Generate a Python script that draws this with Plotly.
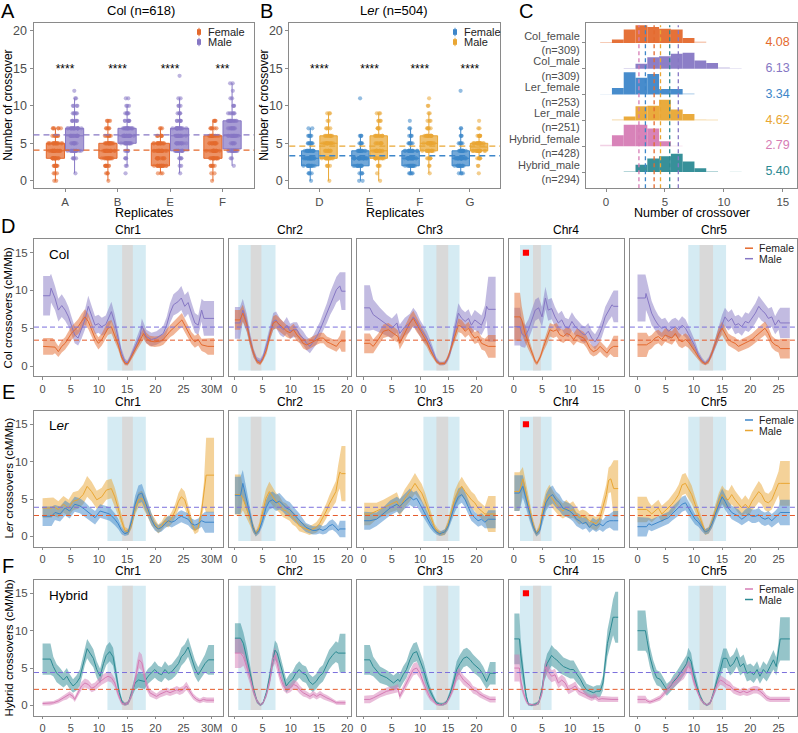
import plotly.graph_objects as go

W, H = 798, 733
FONT = "Liberation Sans, Arial, sans-serif"
GREY_TXT = "#4d4d4d"
FRAME = "#8a8a8a"

ORANGE, PURPLE = "#e4692d", "#8677c4"
BLUE, GOLD = "#3d86c9", "#e9a633"
PINK, TEAL = "#d67cb5", "#2c8a93"
AVG_PURPLE, AVG_ORANGE = "#7b6fdc", "#e65a2a"

# ---------------- A / B : crossovers per plant, counts per value ----------------
COL_REPS = ["A", "B", "E", "F"]
COL_FEMALE_COUNTS = [
    {0: 2, 1: 3, 2: 8, 3: 14, 4: 20, 5: 16, 6: 8, 7: 6},
    {0: 1, 1: 3, 2: 8, 3: 14, 4: 18, 5: 16, 6: 8, 7: 5, 8: 4},
    {1: 3, 2: 18, 3: 11, 4: 20, 5: 15, 6: 7, 7: 3},
    {0: 1, 1: 2, 2: 6, 3: 14, 4: 16, 5: 12, 6: 14, 7: 6, 8: 4},
]
COL_MALE_COUNTS = [
    {1: 1, 3: 4, 4: 16, 5: 8, 6: 14, 7: 18, 8: 6, 9: 5, 10: 4, 11: 2, 12: 1},
    {1: 1, 2: 2, 3: 3, 4: 5, 5: 14, 6: 20, 7: 16, 8: 7, 9: 5, 10: 3, 11: 2},
    {1: 1, 2: 2, 3: 4, 4: 14, 5: 12, 6: 14, 7: 16, 8: 6, 9: 4, 10: 3, 11: 2, 14: 1},
    {2: 1, 3: 2, 4: 16, 5: 6, 6: 14, 7: 10, 8: 12, 9: 6, 10: 3, 11: 2, 12: 1, 13: 2},
]
COL_SIG = ["****", "****", "****", "***"]
COL_MEANS = [4.08, 6.13]

LER_REPS = ["D", "E", "F", "G"]
LER_FEMALE_COUNTS = [
    {0: 1, 1: 4, 2: 14, 3: 22, 4: 16, 5: 8, 6: 5, 7: 2},
    {0: 2, 1: 4, 2: 13, 3: 22, 4: 14, 5: 5, 6: 4, 11: 1},
    {1: 5, 2: 14, 3: 20, 4: 16, 5: 6, 6: 4, 7: 2, 8: 1},
    {1: 4, 2: 14, 3: 22, 4: 14, 5: 5, 6: 3, 7: 2, 12: 1},
]
LER_MALE_COUNTS = [
    {0: 1, 2: 4, 3: 14, 4: 12, 5: 14, 6: 10, 7: 4, 8: 2, 9: 3},
    {0: 1, 1: 1, 2: 4, 3: 12, 4: 14, 5: 8, 6: 10, 7: 5, 8: 4, 9: 3},
    {1: 1, 2: 2, 3: 6, 4: 14, 5: 16, 6: 14, 7: 5, 8: 3, 9: 2, 10: 2, 11: 1},
    {1: 1, 2: 2, 3: 6, 4: 21, 5: 19, 6: 8, 7: 2, 8: 1},
]
LER_SIG = ["****", "****", "****", "****"]
LER_MEANS = [3.34, 4.62]

# ---------------- C : histograms (bin height relative to row spacing) ----------------
C_GROUPS = ["Col_female", "Col_male", "Ler_female", "Ler_male", "Hybrid_female", "Hybrid_male"]
C_N = [309, 309, 253, 251, 428, 294]
C_MEANS = [4.08, 6.13, 3.34, 4.62, 2.79, 5.40]
C_FIRST_BIN = [0, 2, 0, 1, 0, 2]
C_HEIGHTS = [
    [0.04, 0.13, 0.52, 0.68, 0.62, 0.55, 0.52, 0.19, 0.06],
    [0.03, 0.19, 0.45, 0.48, 0.58, 0.62, 0.32, 0.22, 0.06, 0.02],
    [0.01, 0.25, 0.86, 0.65, 0.80, 0.22, 0.22, 0.05],
    [0.04, 0.15, 0.55, 0.57, 0.80, 0.42, 0.25, 0.04, 0.03],
    [0.06, 0.42, 0.83, 0.83, 0.69, 0.19, 0.02],
    [0.04, 0.28, 0.52, 0.61, 0.71, 0.41, 0.15, 0.04, 0.0, 0.015],
]

# ---------------- D-F : crossover landscapes (Mb, cM/Mb, CI half width) ----------------
CHROMS = ["Chr1", "Chr2", "Chr3", "Chr4", "Chr5"]
CHR_LEN = [30.43, 19.70, 23.46, 18.59, 26.98]
CHR_TICKS = [[0, 5, 10, 15, 20, 25, 30], [0, 5, 10, 15, 20], [0, 5, 10, 15, 20], [0, 5, 10, 15], [0, 5, 10, 15, 20, 25]]
PERICEN = [(11.5, 18.3), (0.7, 7.3), (10.6, 17.0), (1.1, 6.7), (9.0, 15.7)]
CEN = [(14.1, 16.0), (2.9, 4.8), (12.9, 15.0), (3.4, 4.8), (11.0, 13.4)]
KNOB_CHR4 = (1.6, 2.7, 14.6, 15.4)
GENOME_AVG = {"Col": (3.42, 5.15), "Ler": (2.8, 3.9), "Hybrid": (2.15, 4.4)}

COL_FEMALE = {
    "Chr1": [(0.1, 2.6, 1.1), (1.8, 2.6, 1.1), (2.2, 2.5, 0.8), (2.8, 1.9, 0.7), (3.4, 2.6, 0.8), (4.0, 3.0, 0.8), (4.6, 3.7, 0.9), (5.1, 4.3, 0.9), (5.7, 4.8, 0.9), (6.3, 5.2, 1.0), (6.9, 5.9, 1.0), (7.5, 6.5, 1.0), (8.1, 5.9, 1.0), (8.7, 4.8, 0.9), (9.3, 3.7, 0.8), (9.9, 3.0, 0.8), (10.5, 3.5, 0.8), (11.1, 4.3, 0.9), (11.6, 5.0, 0.9), (12.2, 5.2, 0.9), (12.8, 4.1, 0.8), (13.4, 2.8, 0.6), (14.0, 1.2, 0.4), (14.6, 0.35, 0.25), (15.1, 0.3, 0.25), (15.5, 0.9, 0.35), (16.1, 1.7, 0.45), (16.7, 2.6, 0.55), (17.3, 3.5, 0.65), (17.9, 4.3, 0.75), (18.4, 3.7, 0.7), (19.0, 3.3, 0.7), (19.9, 3.2, 0.7), (20.8, 3.3, 0.7), (21.4, 3.5, 0.7), (22.0, 4.1, 0.8), (22.6, 4.6, 0.8), (23.2, 5.0, 0.9), (23.8, 5.4, 0.9), (24.7, 6.1, 0.9), (25.2, 5.4, 0.9), (25.8, 4.6, 0.8), (26.4, 3.7, 0.8), (27.0, 3.2, 0.8), (27.6, 3.5, 0.8), (28.2, 2.8, 0.8), (28.8, 2.7, 0.9), (29.3, 2.6, 1.1), (30.4, 2.6, 1.1)],
    "Chr2": [(0.1, 6.1, 1.3), (1.0, 6.1, 1.3), (1.5, 7.0, 1.1), (2.2, 5.5, 0.9), (2.8, 3.3, 0.7), (3.4, 1.7, 0.5), (4.0, 0.6, 0.3), (4.6, 0.35, 0.25), (5.1, 1.0, 0.35), (5.7, 2.1, 0.5), (6.3, 4.1, 0.7), (6.9, 5.7, 0.9), (7.4, 5.9, 0.9), (8.1, 5.4, 0.9), (8.7, 5.0, 0.9), (9.3, 4.6, 0.8), (9.9, 4.4, 0.8), (10.5, 4.8, 0.8), (11.1, 4.1, 0.8), (11.6, 3.7, 0.7), (12.2, 3.0, 0.7), (12.8, 2.8, 0.7), (13.4, 3.0, 0.7), (14.0, 3.2, 0.7), (14.6, 3.5, 0.7), (15.2, 3.7, 0.7), (15.8, 3.7, 0.7), (16.4, 3.2, 0.7), (17.0, 3.0, 0.7), (17.6, 2.8, 0.7), (18.1, 2.6, 0.7), (18.7, 3.2, 0.8), (19.0, 3.3, 1.4), (19.7, 3.3, 1.4)],
    "Chr3": [(0.1, 3.0, 1.3), (1.1, 3.0, 1.3), (1.7, 2.6, 0.9), (2.6, 3.5, 0.8), (3.5, 4.6, 0.9), (4.4, 4.8, 0.9), (5.3, 4.3, 0.9), (6.1, 3.9, 0.8), (6.4, 3.0, 0.8), (7.3, 4.3, 0.9), (8.2, 5.7, 1.0), (8.8, 6.3, 1.0), (9.4, 5.5, 1.0), (10.0, 4.8, 0.9), (10.6, 3.9, 0.8), (11.2, 3.2, 0.7), (11.8, 2.1, 0.5), (12.4, 1.2, 0.35), (12.9, 0.6, 0.25), (13.5, 0.3, 0.2), (14.4, 0.35, 0.2), (15.0, 1.2, 0.35), (15.6, 2.6, 0.55), (16.2, 4.1, 0.75), (16.8, 5.4, 0.9), (17.4, 5.2, 0.9), (18.0, 4.6, 0.85), (18.6, 5.0, 0.85), (19.1, 4.3, 0.8), (19.7, 3.7, 0.8), (20.3, 3.9, 0.8), (20.9, 3.0, 0.8), (21.5, 2.8, 0.8), (22.1, 2.6, 1.5), (23.4, 2.6, 1.5)],
    "Chr4": [(0.1, 6.5, 3.2), (1.1, 6.5, 3.2), (1.4, 6.1, 1.8), (2.0, 4.3, 1.2), (2.6, 3.0, 0.8), (3.2, 1.7, 0.5), (3.8, 0.6, 0.3), (4.1, 0.35, 0.25), (4.7, 1.2, 0.35), (5.3, 2.6, 0.6), (5.9, 3.7, 0.8), (6.4, 4.8, 0.9), (7.0, 4.6, 0.9), (7.6, 4.8, 0.9), (8.2, 4.1, 0.85), (8.8, 3.9, 0.85), (9.4, 4.3, 0.85), (10.0, 4.1, 0.85), (10.6, 3.5, 0.8), (11.2, 4.1, 0.85), (11.8, 3.9, 0.85), (12.4, 3.7, 0.8), (12.9, 3.2, 0.8), (13.5, 2.3, 0.7), (14.1, 1.9, 0.65), (14.7, 2.1, 0.65), (15.3, 2.6, 0.7), (15.9, 2.1, 0.7), (16.5, 1.7, 0.65), (17.1, 2.3, 0.7), (17.7, 2.6, 1.4), (18.5, 2.6, 1.4)],
    "Chr5": [(0.0, 2.8, 1.6), (1.6, 2.8, 1.6), (2.0, 3.0, 0.9), (2.5, 3.2, 0.9), (3.1, 3.7, 0.9), (3.7, 3.9, 0.9), (4.3, 3.5, 0.9), (4.9, 4.1, 0.9), (5.5, 3.9, 0.9), (6.1, 3.7, 0.9), (6.7, 4.3, 0.9), (7.3, 3.5, 0.9), (7.9, 3.2, 0.85), (8.5, 3.5, 0.85), (9.0, 3.2, 0.8), (9.6, 2.6, 0.7), (10.2, 1.9, 0.55), (10.8, 1.2, 0.4), (11.4, 0.6, 0.3), (12.0, 0.3, 0.2), (12.6, 0.6, 0.3), (13.2, 1.7, 0.45), (13.8, 3.0, 0.65), (14.4, 4.3, 0.8), (15.0, 5.0, 0.9), (15.5, 4.3, 0.85), (16.1, 3.5, 0.8), (16.7, 3.2, 0.8), (17.3, 3.0, 0.8), (17.9, 2.6, 0.75), (18.5, 2.8, 0.75), (19.1, 3.0, 0.8), (19.7, 3.2, 0.8), (20.3, 3.5, 0.8), (20.9, 3.9, 0.85), (21.5, 4.3, 0.85), (22.0, 4.6, 0.9), (22.6, 5.0, 0.9), (23.2, 4.3, 0.85), (23.8, 3.2, 0.8), (24.4, 2.8, 0.8), (25.0, 2.6, 0.8), (25.3, 2.3, 1.3), (27.0, 2.3, 1.3)],
}
COL_MALE = {
    "Chr1": [(0.1, 9.3, 2.6), (1.3, 9.3, 2.6), (1.5, 10.3, 1.9), (2.2, 9.0, 1.6), (2.8, 7.4, 1.5), (3.4, 8.0, 1.5), (4.0, 7.4, 1.4), (4.6, 6.5, 1.3), (5.1, 5.4, 1.2), (5.7, 4.1, 1.1), (6.3, 3.7, 1.0), (6.9, 4.8, 1.2), (7.5, 6.1, 1.3), (8.1, 7.9, 1.4), (8.7, 6.5, 1.3), (9.3, 5.4, 1.2), (9.9, 5.6, 1.2), (10.5, 5.2, 1.2), (11.2, 5.5, 1.2), (12.2, 7.2, 1.3), (12.8, 5.7, 1.1), (13.4, 3.5, 0.9), (14.0, 1.7, 0.6), (14.6, 0.6, 0.4), (15.0, 0.4, 0.3), (15.5, 1.0, 0.4), (16.1, 2.1, 0.6), (16.7, 3.2, 0.8), (17.3, 4.1, 0.9), (17.6, 5.3, 1.0), (18.4, 3.9, 0.9), (19.3, 3.5, 0.9), (20.2, 3.7, 0.9), (21.4, 4.3, 1.0), (22.0, 5.4, 1.1), (22.6, 7.0, 1.3), (23.2, 8.1, 1.4), (24.0, 8.5, 1.5), (24.6, 9.0, 1.6), (25.2, 7.9, 1.5), (25.8, 8.4, 1.5), (26.4, 7.0, 1.4), (27.0, 5.7, 1.3), (27.6, 5.4, 1.3), (28.2, 7.4, 1.5), (28.6, 6.3, 2.3), (30.4, 6.3, 2.3)],
    "Chr2": [(0.1, 5.7, 2.1), (1.0, 5.7, 2.1), (1.5, 7.4, 1.5), (2.2, 5.7, 1.2), (2.8, 3.5, 0.9), (3.4, 1.7, 0.6), (4.0, 0.8, 0.4), (4.6, 0.6, 0.35), (5.1, 1.2, 0.45), (5.7, 2.6, 0.7), (6.3, 4.3, 0.9), (6.9, 5.9, 1.1), (7.4, 6.1, 1.1), (8.1, 5.2, 1.1), (8.7, 4.8, 1.0), (9.3, 5.4, 1.1), (9.9, 4.6, 1.0), (10.5, 4.8, 1.0), (11.1, 4.8, 1.0), (11.6, 4.1, 1.0), (12.2, 3.7, 0.9), (12.8, 3.0, 0.9), (13.4, 2.6, 0.9), (14.0, 3.2, 0.9), (14.6, 3.9, 1.0), (15.2, 4.8, 1.1), (15.8, 5.9, 1.2), (16.4, 7.0, 1.3), (17.0, 8.3, 1.5), (17.6, 9.2, 1.6), (18.1, 10.1, 1.7), (18.7, 10.6, 1.8), (19.0, 9.9, 2.5), (19.7, 9.9, 2.5)],
    "Chr3": [(0.1, 7.7, 3.0), (1.1, 7.7, 3.0), (1.7, 6.8, 2.0), (2.9, 6.1, 1.6), (4.1, 5.4, 1.4), (5.0, 5.0, 1.3), (5.9, 5.7, 1.3), (6.4, 4.3, 1.2), (7.3, 5.2, 1.2), (8.2, 5.7, 1.2), (8.8, 6.5, 1.2), (9.4, 5.9, 1.2), (10.0, 5.0, 1.1), (10.6, 4.3, 1.0), (11.2, 3.7, 0.9), (11.8, 2.8, 0.7), (12.4, 1.7, 0.5), (12.9, 0.8, 0.35), (13.5, 0.35, 0.25), (14.1, 0.3, 0.25), (14.7, 0.6, 0.3), (15.3, 1.7, 0.5), (15.9, 3.9, 0.9), (16.5, 6.1, 1.2), (16.8, 7.0, 1.3), (17.4, 6.3, 1.2), (18.0, 5.9, 1.2), (18.6, 6.3, 1.2), (19.1, 5.4, 1.2), (19.7, 6.1, 1.3), (20.3, 5.7, 1.3), (20.9, 5.4, 1.3), (21.5, 6.5, 1.5), (21.8, 7.9, 1.8), (22.1, 7.5, 4.3), (23.4, 7.5, 4.3)],
    "Chr4": [(0.1, 5.2, 2.5), (1.1, 5.2, 2.5), (1.4, 4.3, 1.8), (2.0, 3.9, 1.5), (2.6, 4.8, 1.4), (3.2, 6.1, 1.4), (3.8, 7.4, 1.4), (4.4, 7.7, 1.4), (5.0, 6.5, 1.3), (5.6, 9.0, 1.5), (6.1, 7.4, 1.4), (6.7, 7.6, 1.4), (7.3, 6.5, 1.3), (7.9, 5.7, 1.2), (8.5, 6.1, 1.2), (9.1, 5.2, 1.2), (9.7, 5.0, 1.2), (10.3, 5.9, 1.2), (10.9, 5.2, 1.2), (11.5, 4.8, 1.1), (12.1, 4.3, 1.1), (12.6, 4.1, 1.1), (13.2, 4.6, 1.1), (13.8, 3.7, 1.0), (14.4, 3.2, 1.0), (15.0, 3.9, 1.1), (15.6, 5.0, 1.2), (16.2, 6.5, 1.3), (16.8, 7.4, 1.4), (17.4, 8.1, 1.5), (17.7, 7.9, 2.1), (18.5, 7.9, 2.1)],
    "Chr5": [(0.0, 9.0, 3.1), (1.4, 9.0, 3.1), (1.5, 9.6, 2.2), (2.0, 8.3, 1.8), (2.5, 7.0, 1.6), (3.1, 6.1, 1.4), (3.7, 5.4, 1.3), (4.3, 5.0, 1.2), (4.9, 5.2, 1.2), (5.5, 4.6, 1.1), (6.1, 5.0, 1.2), (6.7, 5.2, 1.2), (7.3, 4.8, 1.2), (7.9, 5.4, 1.2), (8.5, 5.0, 1.2), (9.0, 4.3, 1.1), (9.6, 3.5, 0.9), (10.2, 2.6, 0.7), (10.8, 1.5, 0.5), (11.4, 0.8, 0.35), (12.0, 0.35, 0.25), (12.6, 0.8, 0.35), (13.2, 1.7, 0.5), (13.8, 3.0, 0.7), (14.4, 4.3, 0.9), (15.0, 5.7, 1.1), (15.5, 6.5, 1.2), (16.1, 5.9, 1.2), (16.7, 6.3, 1.2), (17.3, 5.4, 1.2), (17.9, 5.6, 1.2), (18.5, 5.2, 1.2), (19.1, 5.9, 1.2), (19.7, 5.7, 1.2), (20.3, 6.3, 1.3), (20.9, 7.0, 1.3), (21.5, 7.9, 1.4), (22.0, 7.4, 1.4), (22.6, 7.0, 1.3), (23.2, 6.3, 1.3), (23.8, 6.5, 1.3), (24.4, 5.4, 1.2), (25.0, 6.1, 1.3), (25.3, 5.7, 2.0), (27.0, 5.7, 2.0)],
}
LER_FEMALE = {
    "Chr1": [(0.0, 2.7, 1.3), (1.6, 2.7, 1.3), (2.2, 3.2, 1.0), (3.1, 3.0, 1.0), (4.0, 3.8, 1.0), (4.8, 3.4, 1.0), (5.7, 4.3, 1.0), (6.6, 4.1, 1.0), (7.5, 3.6, 1.0), (8.4, 3.0, 0.9), (9.3, 2.5, 0.9), (10.2, 3.4, 0.9), (11.1, 3.2, 0.9), (11.9, 3.0, 0.9), (12.8, 2.3, 0.8), (13.4, 1.7, 0.7), (14.0, 0.8, 0.5), (14.6, 0.35, 0.3), (15.2, 0.6, 0.4), (15.8, 2.1, 0.8), (16.4, 4.3, 1.1), (17.0, 5.6, 1.2), (17.6, 5.8, 1.2), (18.1, 4.9, 1.1), (18.7, 3.6, 1.0), (19.3, 2.3, 0.8), (19.9, 1.4, 0.6), (20.5, 1.0, 0.5), (21.1, 1.2, 0.55), (21.7, 1.7, 0.6), (22.3, 2.1, 0.7), (22.9, 1.9, 0.7), (23.5, 2.1, 0.7), (24.1, 2.5, 0.8), (24.6, 2.7, 0.8), (25.2, 2.5, 0.8), (25.8, 2.3, 0.8), (26.4, 1.7, 0.7), (27.0, 1.5, 0.7), (27.6, 1.7, 0.7), (28.2, 2.1, 0.8), (28.8, 1.9, 1.4), (30.4, 1.9, 1.4)],
    "Chr2": [(0.1, 5.5, 2.5), (1.1, 5.5, 2.5), (1.5, 7.1, 1.8), (2.1, 5.1, 1.4), (2.7, 3.0, 1.0), (3.3, 1.2, 0.6), (3.8, 0.35, 0.35), (4.4, 0.8, 0.4), (5.0, 2.1, 0.7), (5.6, 3.8, 1.0), (6.2, 4.7, 1.1), (6.8, 4.9, 1.1), (7.4, 4.5, 1.1), (8.0, 4.7, 1.1), (8.6, 4.3, 1.0), (9.2, 3.8, 1.0), (9.8, 3.6, 1.0), (10.3, 3.2, 0.9), (10.9, 2.7, 0.9), (11.5, 2.3, 0.8), (12.1, 1.7, 0.7), (12.7, 1.2, 0.6), (13.3, 1.0, 0.6), (13.9, 0.8, 0.55), (14.5, 0.8, 0.55), (15.1, 1.0, 0.6), (15.7, 0.8, 0.55), (16.3, 1.0, 0.6), (16.8, 1.4, 0.65), (17.4, 1.6, 0.7), (18.0, 1.2, 0.65), (18.4, 0.8, 0.6), (18.7, 1.0, 1.1), (19.7, 1.0, 1.1)],
    "Chr3": [(0.1, 2.1, 1.2), (1.1, 2.1, 1.2), (2.3, 2.3, 0.9), (3.5, 3.0, 0.9), (4.7, 3.8, 1.0), (5.9, 4.3, 1.0), (6.4, 4.0, 1.0), (7.3, 4.7, 1.0), (8.2, 5.3, 1.1), (8.8, 4.9, 1.0), (9.4, 5.1, 1.0), (10.0, 4.3, 1.0), (10.6, 3.4, 0.9), (11.2, 2.7, 0.8), (11.8, 1.7, 0.6), (12.4, 1.0, 0.45), (12.9, 0.6, 0.35), (13.5, 0.35, 0.3), (14.4, 0.6, 0.35), (15.0, 1.4, 0.5), (15.6, 3.0, 0.8), (16.2, 4.3, 1.0), (16.8, 5.3, 1.1), (17.4, 5.6, 1.1), (18.0, 4.9, 1.0), (18.6, 3.8, 0.9), (19.1, 3.0, 0.9), (19.7, 2.5, 0.8), (20.3, 2.1, 0.8), (20.9, 2.3, 0.8), (21.5, 1.9, 0.8), (22.1, 2.3, 1.2), (23.4, 2.3, 1.2)],
    "Chr4": [(0.1, 5.8, 2.4), (1.0, 5.8, 2.4), (1.6, 6.7, 1.5), (2.2, 4.9, 1.2), (2.8, 3.0, 0.9), (3.4, 1.4, 0.6), (4.0, 0.35, 0.35), (4.6, 0.8, 0.45), (5.1, 2.7, 0.9), (5.7, 4.5, 1.1), (6.3, 5.3, 1.2), (6.9, 5.6, 1.2), (7.5, 4.9, 1.1), (8.1, 4.5, 1.1), (8.7, 3.8, 1.0), (9.3, 3.6, 1.0), (9.9, 3.4, 1.0), (10.5, 3.0, 1.0), (11.1, 2.3, 0.9), (11.6, 2.1, 0.9), (12.2, 1.7, 0.8), (12.8, 1.9, 0.8), (13.4, 1.2, 0.7), (14.0, 1.7, 0.8), (14.6, 1.4, 0.8), (15.2, 1.7, 0.8), (15.8, 1.4, 0.8), (16.4, 1.9, 0.9), (17.0, 2.1, 0.9), (17.7, 2.1, 1.3), (18.5, 2.1, 1.3)],
    "Chr5": [(0.0, 1.3, 1.3), (1.6, 1.3, 1.3), (2.0, 1.7, 0.8), (2.5, 1.5, 0.8), (3.1, 1.7, 0.8), (3.7, 1.9, 0.8), (4.3, 2.1, 0.8), (4.9, 2.3, 0.8), (5.5, 2.5, 0.8), (6.1, 3.0, 0.9), (6.7, 3.4, 0.9), (7.3, 3.8, 1.0), (7.9, 4.3, 1.0), (8.5, 4.5, 1.0), (9.0, 3.8, 0.9), (9.6, 3.0, 0.8), (10.2, 2.3, 0.7), (10.8, 1.9, 0.6), (11.4, 1.2, 0.5), (12.0, 0.6, 0.35), (12.6, 0.8, 0.4), (13.2, 1.7, 0.6), (13.8, 3.0, 0.8), (14.4, 4.3, 1.0), (15.0, 5.3, 1.1), (15.5, 4.7, 1.0), (16.1, 3.8, 0.9), (16.7, 3.2, 0.9), (17.3, 3.0, 0.9), (17.9, 2.7, 0.9), (18.5, 2.3, 0.8), (19.1, 2.7, 0.9), (19.7, 3.0, 0.9), (20.3, 2.7, 0.9), (20.9, 2.7, 0.9), (21.5, 2.9, 0.9), (22.0, 2.5, 0.9), (22.6, 2.3, 0.9), (23.2, 2.5, 0.9), (23.8, 2.1, 0.9), (24.4, 2.5, 0.9), (25.0, 2.9, 1.0), (25.3, 3.2, 1.7), (27.0, 3.2, 1.7)],
}
LER_MALE = {
    "Chr1": [(0.0, 3.8, 1.3), (1.6, 3.8, 1.3), (1.9, 4.0, 1.2), (2.8, 3.6, 1.1), (3.7, 4.3, 1.1), (4.6, 3.8, 1.1), (5.4, 4.7, 1.2), (6.3, 4.9, 1.2), (7.2, 5.6, 1.3), (7.9, 6.7, 1.4), (8.7, 6.0, 1.3), (9.6, 4.9, 1.2), (10.5, 5.3, 1.2), (11.3, 6.2, 1.3), (12.2, 6.4, 1.3), (12.8, 5.3, 1.2), (13.4, 3.8, 1.0), (14.0, 2.1, 0.7), (14.6, 0.8, 0.45), (15.2, 0.6, 0.4), (15.8, 1.7, 0.6), (16.4, 3.8, 0.9), (17.0, 4.9, 1.0), (17.6, 5.1, 1.0), (18.1, 4.5, 1.0), (18.7, 3.4, 0.9), (19.3, 2.3, 0.8), (19.9, 1.7, 0.7), (20.5, 1.0, 0.6), (21.1, 1.4, 0.6), (21.7, 2.1, 0.7), (22.3, 1.9, 0.7), (22.9, 2.5, 0.8), (23.5, 3.4, 0.9), (24.1, 4.7, 1.1), (24.6, 5.3, 1.2), (25.2, 4.9, 1.1), (25.8, 3.4, 0.9), (26.4, 1.9, 0.7), (27.0, 0.8, 0.5), (27.6, 1.2, 0.6), (28.2, 3.4, 1.0), (28.6, 5.6, 1.6), (29.0, 8.2, 5.0), (30.4, 8.2, 5.0)],
    "Chr2": [(0.1, 5.6, 2.7), (1.1, 5.6, 2.7), (1.5, 5.1, 1.6), (2.1, 3.8, 1.2), (2.7, 2.5, 0.9), (3.3, 1.2, 0.6), (3.8, 0.35, 0.35), (4.4, 1.2, 0.6), (5.0, 3.4, 1.0), (5.6, 5.1, 1.2), (6.2, 6.0, 1.3), (6.8, 5.3, 1.2), (7.4, 4.7, 1.1), (8.0, 4.3, 1.1), (8.6, 3.6, 1.0), (9.2, 3.4, 1.0), (9.8, 3.0, 0.9), (10.3, 2.5, 0.9), (10.9, 2.1, 0.8), (11.5, 1.4, 0.7), (12.1, 1.2, 0.7), (12.7, 1.0, 0.6), (13.3, 0.8, 0.6), (13.9, 1.0, 0.6), (14.5, 1.2, 0.7), (15.1, 1.7, 0.8), (15.7, 2.5, 0.9), (16.3, 3.4, 1.0), (16.8, 4.3, 1.1), (17.4, 5.1, 1.2), (18.0, 6.0, 1.4), (18.4, 7.7, 1.8), (18.7, 8.6, 2.2), (19.0, 8.4, 3.7), (19.7, 8.4, 3.7)],
    "Chr3": [(0.1, 3.0, 1.5), (1.1, 3.0, 1.5), (2.3, 3.4, 1.1), (3.5, 3.8, 1.1), (4.7, 4.3, 1.1), (5.9, 4.7, 1.2), (6.4, 3.8, 1.1), (7.3, 5.1, 1.2), (8.2, 6.0, 1.3), (9.1, 7.1, 1.4), (9.7, 6.4, 1.3), (10.3, 5.8, 1.2), (10.9, 4.7, 1.1), (11.5, 3.4, 0.9), (12.1, 2.3, 0.7), (12.6, 1.2, 0.5), (13.2, 0.6, 0.4), (13.8, 0.35, 0.3), (14.4, 0.6, 0.4), (15.0, 1.7, 0.6), (15.6, 3.4, 0.9), (16.2, 5.1, 1.1), (16.8, 6.0, 1.2), (17.4, 6.7, 1.3), (18.0, 6.0, 1.2), (18.6, 5.3, 1.2), (19.1, 4.9, 1.1), (19.7, 4.5, 1.1), (20.3, 3.8, 1.0), (20.9, 3.4, 1.0), (21.5, 3.0, 1.0), (22.1, 3.0, 2.4), (23.4, 3.0, 2.4)],
    "Chr4": [(0.1, 6.0, 2.6), (1.0, 6.0, 2.6), (1.6, 7.7, 1.6), (2.2, 5.6, 1.3), (2.8, 3.4, 1.0), (3.4, 1.7, 0.7), (4.0, 0.35, 0.35), (4.6, 1.2, 0.6), (5.1, 3.4, 1.0), (5.7, 4.9, 1.2), (6.3, 5.6, 1.3), (6.9, 4.9, 1.2), (7.5, 4.3, 1.1), (8.1, 3.8, 1.1), (8.7, 3.4, 1.0), (9.3, 3.8, 1.1), (9.9, 3.4, 1.0), (10.5, 3.6, 1.1), (11.1, 3.0, 1.0), (11.6, 2.5, 0.9), (12.2, 2.7, 0.9), (12.8, 2.5, 0.9), (13.4, 2.1, 0.9), (14.0, 1.9, 0.9), (14.6, 1.7, 0.9), (15.2, 2.3, 1.0), (15.8, 3.8, 1.2), (16.4, 5.6, 1.4), (16.8, 7.5, 1.7), (17.2, 7.7, 1.8), (17.7, 6.4, 3.8), (18.5, 6.4, 3.8)],
    "Chr5": [(0.0, 3.6, 1.7), (1.6, 3.6, 1.7), (2.0, 3.4, 1.2), (2.5, 3.0, 1.1), (3.1, 3.4, 1.1), (3.7, 3.8, 1.1), (4.3, 3.0, 1.1), (4.9, 3.4, 1.1), (5.5, 3.8, 1.1), (6.1, 4.3, 1.2), (6.7, 4.9, 1.2), (7.3, 5.6, 1.3), (7.9, 6.9, 1.4), (8.5, 7.1, 1.4), (9.0, 6.4, 1.3), (9.6, 5.6, 1.2), (10.2, 4.3, 1.0), (10.8, 3.0, 0.8), (11.4, 1.7, 0.6), (12.0, 0.6, 0.4), (12.6, 0.8, 0.45), (13.2, 1.9, 0.7), (13.8, 3.4, 0.9), (14.4, 4.7, 1.1), (15.0, 5.6, 1.2), (15.5, 5.1, 1.2), (16.1, 4.9, 1.2), (16.7, 5.6, 1.3), (17.3, 4.9, 1.2), (17.9, 4.3, 1.2), (18.5, 3.8, 1.1), (19.1, 4.3, 1.2), (19.7, 3.8, 1.1), (20.3, 4.7, 1.2), (20.9, 5.3, 1.3), (21.5, 6.0, 1.4), (22.0, 5.6, 1.3), (22.6, 4.7, 1.2), (23.2, 4.5, 1.2), (23.8, 4.9, 1.3), (24.4, 6.0, 1.4), (25.0, 7.1, 1.6), (25.3, 7.1, 3.0), (27.0, 7.1, 3.0)],
}
HYB_FEMALE = {
    "Chr1": [(0.0, 0.25, 0.25), (1.3, 0.25, 0.25), (1.9, 0.35, 0.25), (2.8, 0.6, 0.3), (3.7, 1.0, 0.35), (4.3, 1.2, 0.4), (4.8, 1.5, 0.4), (5.4, 1.2, 0.4), (5.7, 0.8, 0.35), (6.3, 1.7, 0.45), (6.9, 2.6, 0.55), (7.5, 3.0, 0.6), (8.1, 2.8, 0.6), (8.7, 2.3, 0.55), (9.3, 2.5, 0.55), (9.9, 3.0, 0.6), (10.5, 3.4, 0.65), (11.1, 3.7, 0.65), (11.6, 3.9, 0.65), (12.2, 3.7, 0.65), (12.8, 3.0, 0.6), (13.4, 1.5, 0.45), (14.0, 0.35, 0.25), (14.6, 0.15, 0.2), (15.2, 0.35, 0.25), (15.8, 1.5, 0.5), (16.3, 3.0, 0.8), (16.7, 4.8, 1.0), (17.1, 6.1, 1.1), (17.6, 5.7, 1.1), (18.0, 4.3, 0.9), (18.4, 2.8, 0.7), (19.0, 1.7, 0.5), (19.6, 1.5, 0.45), (20.2, 1.2, 0.4), (20.8, 1.5, 0.45), (21.4, 1.7, 0.45), (22.0, 1.9, 0.5), (22.6, 1.7, 0.45), (23.2, 1.9, 0.5), (23.8, 2.1, 0.5), (24.3, 1.9, 0.5), (24.9, 2.1, 0.5), (25.5, 2.6, 0.55), (26.1, 1.9, 0.5), (26.7, 1.2, 0.4), (27.3, 0.8, 0.35), (27.9, 0.6, 0.3), (28.5, 0.8, 0.35), (29.1, 0.7, 0.35), (30.4, 0.7, 0.35)],
    "Chr2": [(0.1, 7.0, 2.0), (1.1, 7.0, 2.0), (1.6, 6.5, 1.2), (2.2, 5.2, 1.0), (2.8, 3.7, 0.8), (3.4, 1.9, 0.5), (4.0, 0.6, 0.25), (4.6, 0.05, 0.1), (5.1, 0.35, 0.2), (5.7, 1.5, 0.4), (6.3, 3.4, 0.7), (6.8, 6.1, 1.0), (7.2, 6.7, 1.1), (7.6, 5.6, 1.0), (8.1, 3.9, 0.8), (8.7, 2.6, 0.6), (9.3, 2.1, 0.55), (9.9, 2.3, 0.55), (10.5, 2.8, 0.6), (11.1, 2.6, 0.6), (11.6, 2.1, 0.55), (12.2, 1.7, 0.5), (12.8, 1.5, 0.45), (13.4, 1.2, 0.4), (14.0, 1.5, 0.45), (14.6, 1.2, 0.4), (15.2, 1.5, 0.45), (15.8, 1.2, 0.4), (16.4, 1.0, 0.4), (17.0, 0.8, 0.35), (17.6, 0.6, 0.3), (18.1, 0.35, 0.25), (18.7, 0.35, 0.3), (19.7, 0.35, 0.3)],
    "Chr3": [(0.1, 0.8, 0.5), (1.1, 0.8, 0.5), (1.7, 1.0, 0.4), (2.9, 1.5, 0.45), (4.1, 1.9, 0.5), (5.3, 2.1, 0.5), (6.1, 2.3, 0.55), (6.4, 1.2, 0.45), (7.0, 2.1, 0.5), (7.6, 3.0, 0.6), (8.2, 3.9, 0.7), (8.8, 4.8, 0.8), (9.4, 5.0, 0.8), (10.0, 4.3, 0.75), (10.6, 3.0, 0.6), (11.2, 1.9, 0.5), (11.8, 1.0, 0.35), (12.4, 0.6, 0.25), (12.9, 0.15, 0.15), (13.8, 0.05, 0.1), (14.7, 0.35, 0.2), (15.3, 1.2, 0.35), (15.9, 2.3, 0.5), (16.5, 3.9, 0.7), (16.9, 4.3, 0.75), (17.7, 3.4, 0.65), (18.3, 3.0, 0.6), (18.9, 2.6, 0.55), (19.4, 2.1, 0.5), (20.0, 1.9, 0.5), (20.6, 1.5, 0.45), (21.2, 1.2, 0.4), (21.8, 1.0, 0.4), (22.4, 0.8, 0.4), (23.4, 0.8, 0.4)],
    "Chr4": [(0.1, 5.0, 1.8), (1.0, 5.0, 1.8), (1.2, 3.4, 1.0), (1.7, 1.7, 0.5), (2.2, 0.6, 0.3), (2.6, 0.15, 0.15), (3.8, 0.05, 0.1), (4.4, 0.35, 0.2), (5.0, 1.7, 0.5), (5.4, 4.3, 0.9), (5.7, 5.2, 1.0), (6.1, 4.5, 0.9), (6.7, 3.9, 0.8), (7.3, 4.1, 0.8), (7.9, 3.0, 0.7), (8.5, 3.4, 0.7), (9.1, 3.0, 0.7), (9.7, 2.1, 0.6), (10.3, 2.3, 0.6), (10.9, 2.6, 0.6), (11.5, 1.9, 0.5), (12.1, 1.7, 0.5), (12.6, 1.5, 0.45), (13.2, 1.2, 0.4), (13.8, 1.0, 0.4), (14.4, 1.2, 0.4), (15.0, 0.8, 0.35), (15.6, 0.9, 0.35), (16.5, 0.8, 0.35), (17.4, 0.8, 0.35), (18.5, 0.8, 0.35)],
    "Chr5": [(0.0, 0.8, 0.5), (1.4, 0.8, 0.5), (1.7, 0.6, 0.3), (2.2, 0.45, 0.25), (2.8, 0.6, 0.3), (3.4, 0.8, 0.3), (4.0, 1.0, 0.35), (4.6, 1.5, 0.4), (5.2, 2.1, 0.5), (5.8, 2.6, 0.55), (6.4, 3.0, 0.6), (7.0, 3.4, 0.65), (7.6, 3.9, 0.7), (8.2, 4.3, 0.75), (8.7, 5.0, 0.8), (9.0, 5.2, 0.8), (9.5, 4.8, 0.75), (9.9, 3.4, 0.6), (10.5, 2.1, 0.45), (11.1, 1.0, 0.3), (11.7, 0.35, 0.2), (12.3, 0.05, 0.1), (12.9, 0.35, 0.2), (13.5, 1.5, 0.4), (14.1, 2.8, 0.6), (14.7, 3.4, 0.65), (15.2, 3.2, 0.6), (15.8, 2.8, 0.6), (16.4, 2.6, 0.55), (17.0, 2.1, 0.5), (17.6, 1.9, 0.5), (18.2, 1.7, 0.45), (18.8, 1.9, 0.5), (19.4, 1.7, 0.45), (20.0, 1.9, 0.5), (20.6, 2.1, 0.5), (21.2, 2.1, 0.5), (21.7, 1.9, 0.5), (22.3, 1.5, 0.45), (22.9, 1.0, 0.4), (23.5, 0.8, 0.35), (24.1, 0.8, 0.35), (24.7, 0.7, 0.35), (25.3, 0.8, 0.35), (27.0, 0.8, 0.35)],
}
HYB_MALE = {
    "Chr1": [(0.0, 6.2, 2.1), (1.4, 6.2, 2.1), (1.9, 5.2, 1.3), (2.5, 4.3, 1.2), (3.1, 3.9, 1.1), (3.7, 3.4, 1.0), (4.3, 3.9, 1.1), (4.8, 3.2, 1.0), (5.4, 2.6, 0.9), (6.0, 3.0, 1.0), (6.6, 3.7, 1.1), (7.2, 5.6, 1.2), (7.5, 6.7, 1.3), (7.9, 7.6, 1.3), (8.4, 7.0, 1.3), (9.0, 6.3, 1.2), (9.6, 4.8, 1.1), (10.2, 3.9, 1.0), (10.8, 5.6, 1.2), (11.3, 6.7, 1.3), (11.9, 7.2, 1.3), (12.5, 6.5, 1.2), (13.0, 4.3, 1.0), (13.6, 1.7, 0.6), (14.1, 0.45, 0.3), (14.6, 0.15, 0.2), (15.2, 0.35, 0.25), (15.8, 1.7, 0.6), (16.4, 3.0, 0.9), (17.0, 3.4, 1.0), (17.6, 3.3, 1.0), (18.1, 3.2, 1.0), (18.7, 3.9, 1.0), (19.3, 4.3, 1.0), (19.9, 4.8, 1.1), (20.5, 4.3, 1.0), (21.1, 4.1, 1.0), (21.7, 4.8, 1.1), (22.3, 4.3, 1.0), (22.9, 4.5, 1.0), (23.5, 5.0, 1.1), (24.1, 5.6, 1.1), (24.6, 6.5, 1.2), (25.2, 7.0, 1.2), (25.8, 7.8, 1.3), (26.4, 6.3, 1.2), (27.0, 5.0, 1.1), (27.6, 4.1, 1.0), (28.2, 4.8, 1.1), (28.8, 5.6, 1.2), (29.4, 6.1, 2.0), (30.4, 6.1, 2.0)],
    "Chr2": [(0.1, 9.0, 2.0), (1.1, 9.0, 2.0), (1.6, 8.3, 1.5), (2.2, 6.5, 1.3), (2.8, 4.3, 1.0), (3.4, 2.1, 0.6), (4.0, 0.6, 0.3), (4.6, 0.05, 0.15), (5.1, 0.35, 0.2), (5.7, 1.7, 0.5), (6.3, 3.9, 0.9), (6.9, 6.5, 1.2), (7.2, 7.4, 1.3), (7.6, 7.0, 1.3), (8.1, 5.6, 1.2), (8.7, 3.7, 1.0), (9.2, 2.6, 0.9), (9.8, 3.2, 1.0), (10.3, 3.5, 1.0), (10.9, 4.3, 1.1), (11.5, 4.8, 1.1), (12.1, 4.3, 1.1), (12.7, 4.1, 1.1), (13.3, 3.2, 1.0), (13.9, 2.8, 1.0), (14.5, 3.2, 1.0), (15.1, 3.9, 1.1), (15.7, 4.3, 1.1), (16.3, 5.2, 1.2), (16.8, 6.1, 1.3), (17.4, 6.7, 1.3), (18.0, 7.2, 1.4), (18.4, 7.0, 1.4), (18.7, 7.0, 2.6), (19.7, 7.0, 2.6)],
    "Chr3": [(0.1, 6.1, 2.0), (1.1, 6.1, 2.0), (1.7, 5.2, 1.3), (2.9, 4.1, 1.1), (4.1, 3.7, 1.0), (5.3, 3.0, 1.0), (6.1, 3.5, 1.0), (6.4, 3.2, 1.0), (7.0, 4.1, 1.1), (7.6, 4.8, 1.1), (8.2, 6.1, 1.2), (8.8, 7.0, 1.3), (9.4, 7.2, 1.3), (10.0, 6.1, 1.2), (10.6, 4.8, 1.1), (11.2, 3.2, 0.9), (11.8, 1.9, 0.6), (12.4, 1.0, 0.4), (12.9, 0.35, 0.25), (13.5, 0.15, 0.2), (14.1, 0.15, 0.2), (14.7, 0.45, 0.25), (15.3, 1.5, 0.5), (15.9, 3.0, 0.8), (16.5, 4.8, 1.1), (17.1, 5.6, 1.2), (17.7, 6.3, 1.2), (18.3, 6.5, 1.2), (18.9, 6.1, 1.2), (19.4, 5.6, 1.2), (20.0, 5.2, 1.1), (20.6, 4.8, 1.1), (21.2, 4.1, 1.1), (21.8, 3.2, 1.0), (22.4, 4.3, 1.5), (23.4, 4.3, 1.5)],
    "Chr4": [(0.1, 8.9, 3.4), (1.0, 8.9, 3.4), (1.2, 7.0, 2.0), (1.7, 3.9, 1.2), (2.2, 1.2, 0.5), (2.6, 0.15, 0.2), (3.2, 0.05, 0.15), (3.8, 0.15, 0.2), (4.4, 0.35, 0.25), (5.0, 2.1, 0.7), (5.4, 4.3, 1.1), (5.9, 5.6, 1.3), (6.3, 6.1, 1.3), (6.7, 6.7, 1.4), (7.2, 6.3, 1.3), (7.6, 6.1, 1.3), (8.2, 5.6, 1.3), (8.8, 5.2, 1.2), (9.4, 5.0, 1.2), (10.0, 4.8, 1.2), (10.6, 4.8, 1.2), (11.2, 4.1, 1.1), (11.8, 3.5, 1.0), (12.4, 2.6, 0.9), (12.9, 2.1, 0.8), (13.5, 1.9, 0.8), (14.1, 1.7, 0.8), (14.7, 1.9, 0.8), (15.3, 1.9, 0.8), (15.8, 3.0, 1.0), (16.2, 5.6, 1.4), (16.6, 8.3, 1.8), (17.1, 10.0, 2.0), (17.6, 11.8, 2.4), (18.0, 11.8, 3.4), (18.5, 11.8, 3.4)],
    "Chr5": [(0.0, 10.0, 2.7), (1.4, 10.0, 2.7), (1.7, 8.7, 1.8), (2.2, 6.5, 1.4), (2.8, 4.8, 1.2), (3.4, 3.7, 1.0), (4.0, 3.5, 1.0), (4.6, 2.8, 0.9), (5.2, 2.1, 0.8), (5.8, 2.5, 0.8), (6.4, 3.2, 0.9), (7.0, 3.7, 0.9), (7.6, 4.3, 1.0), (8.2, 5.0, 1.0), (8.7, 5.6, 1.1), (9.0, 6.5, 1.2), (9.5, 5.9, 1.1), (9.9, 4.3, 1.0), (10.5, 2.6, 0.7), (11.1, 1.2, 0.4), (11.7, 0.35, 0.2), (12.3, 0.05, 0.15), (12.9, 0.35, 0.2), (13.5, 1.7, 0.5), (14.1, 3.4, 0.9), (14.7, 4.8, 1.1), (15.2, 6.3, 1.3), (15.8, 6.3, 1.3), (16.4, 5.2, 1.2), (17.0, 5.6, 1.2), (17.6, 6.5, 1.3), (18.2, 5.2, 1.2), (18.8, 5.6, 1.2), (19.4, 4.3, 1.1), (20.0, 4.5, 1.1), (20.6, 4.1, 1.1), (21.2, 4.8, 1.1), (21.7, 3.9, 1.0), (22.3, 4.8, 1.1), (22.9, 4.3, 1.1), (23.5, 5.2, 1.2), (24.1, 6.1, 1.3), (24.6, 5.2, 1.2), (25.0, 7.0, 1.5), (25.3, 8.9, 2.9), (27.0, 8.9, 2.9)],
}


def rgba(hexc, a):
    h = hexc.lstrip("#")
    return f"rgba({int(h[0:2], 16)},{int(h[2:4], 16)},{int(h[4:6], 16)},{a})"


def pxx(p):
    return p / W


def pxy(p):
    return 1 - p / H


fig = go.Figure()
axes = {}
annotations = []
shapes = []


def note(text, x, y, size=11.5, color="black", xanchor="center", yanchor="middle", angle=0):
    annotations.append(dict(text=text, x=pxx(x), y=pxy(y), xref="paper", yref="paper", showarrow=False,
                            font=dict(size=size, color=color, family=FONT), xanchor=xanchor, yanchor=yanchor,
                            textangle=angle))


def frame_axis(**kw):
    base = dict(showline=True, mirror=True, linecolor=FRAME, linewidth=1, ticks="outside", ticklen=3,
                tickcolor=FRAME, tickfont=dict(size=11.5, color=GREY_TXT, family=FONT), showgrid=False,
                zeroline=False, automargin=False)
    base.update(kw)
    return base


def ax_names(n):
    return ("x", "y") if n == 1 else (f"x{n}", f"y{n}")


# ---------------- panels A and B ----------------
def box_panel(n, reps, fem_counts, male_counts, fem_col, male_col, sig, means, x0, x1, legend_x):
    xa, ya = ax_names(n)
    axes["xaxis" if n == 1 else f"xaxis{n}"] = frame_axis(
        domain=[pxx(x0), pxx(x1)], anchor=ya, type="category", categoryorder="array", categoryarray=reps,
        range=[-0.6, 3.6], ticklen=2.5, tickfont=dict(size=11.5, color=GREY_TXT, family=FONT))
    axes["yaxis" if n == 1 else f"yaxis{n}"] = frame_axis(
        domain=[pxy(188.3), pxy(23.3)], anchor=xa, range=[-1, 21], tickvals=[0, 5, 10, 15, 20],
        tickfont=dict(size=12.5, color=GREY_TXT, family=FONT))
    for name, counts, col, grp in [("Female", fem_counts, fem_col, "f"), ("Male", male_counts, male_col, "m")]:
        xs, ys = [], []
        for rep, cnt in zip(reps, counts):
            for v, c in cnt.items():
                xs += [rep] * c
                ys += [v] * c
        fig.add_trace(go.Box(x=xs, y=ys, name=name, xaxis=xa, yaxis=ya, offsetgroup=grp, alignmentgroup="g",
                             boxpoints="all", jitter=0.8, pointpos=0, whiskerwidth=0,
                             fillcolor=rgba(col, 0.72), line=dict(color=col, width=1),
                             marker=dict(color=col, size=4.2, opacity=0.55), showlegend=False))
    fig.add_trace(go.Scatter(x=reps, y=[14.8] * len(reps), mode="text", text=sig, xaxis=xa, yaxis=ya,
                             textfont=dict(size=12, color="black", family=FONT), showlegend=False,
                             hoverinfo="skip"))
    for m, col in zip(means, [fem_col, male_col]):
        shapes.append(dict(type="line", xref=f"{xa} domain", yref=ya, x0=0, x1=1, y0=m, y1=m, layer="above",
                           line=dict(color=col, width=1.3, dash="6px,4px")))
    # legend
    for i, (name, col) in enumerate([("Female", fem_col), ("Male", male_col)]):
        yc = 32.0 + 10 * i
        shapes.append(dict(type="line", xref="paper", yref="paper", x0=pxx(legend_x), x1=pxx(legend_x),
                           y0=pxy(yc - 4.2), y1=pxy(yc + 4.2), line=dict(color=col, width=1)))
        shapes.append(dict(type="rect", xref="paper", yref="paper", x0=pxx(legend_x - 2), x1=pxx(legend_x + 2),
                           y0=pxy(yc - 2.8), y1=pxy(yc + 2.8), fillcolor=col, line=dict(width=0)))
        note(name, legend_x + 7, yc, size=11, color="#222", xanchor="left")


box_panel(1, COL_REPS, COL_FEMALE_COUNTS, COL_MALE_COUNTS, ORANGE, PURPLE, COL_SIG, COL_MEANS, 33.5, 254, 199)
box_panel(2, LER_REPS, LER_FEMALE_COUNTS, LER_MALE_COUNTS, BLUE, GOLD, LER_SIG, LER_MEANS, 289.3, 500, 455)

note("Col (n=618)", 141, 11, size=13)
note("L<i>er</i> (n=504)", 394, 11, size=13)
note("Replicates", 143.7, 213.5, size=12.5)
note("Replicates", 394.6, 213.5, size=12.5)
note("Number of crossover", 8, 105.8, size=12, angle=-90)
note("Number of crossover", 264, 105.8, size=12, angle=-90)

# ---------------- panel C ----------------
C_COLORS = [ORANGE, PURPLE, BLUE, GOLD, PINK, TEAL]
axes["xaxis3"] = frame_axis(domain=[pxx(586), pxx(797)], anchor="y3", range=[-1.7, 16.2], tickvals=[0, 5, 10, 15],
                            ticklen=2.5, tickfont=dict(size=11.5, color=GREY_TXT, family=FONT))
row_y = [len(C_GROUPS) - i for i in range(len(C_GROUPS))]
axes["yaxis3"] = frame_axis(domain=[pxy(188.3), pxy(23.3)], anchor="x3", range=[0.37, 6.76], tickvals=row_y,
                            ticktext=[f"{g}<br>(n={n})" for g, n in zip(C_GROUPS, C_N)],
                            tickfont=dict(size=11, color=GREY_TXT, family=FONT))
for gi, (start, heights, col) in enumerate(zip(C_FIRST_BIN, C_HEIGHTS, C_COLORS)):
    total = sum(heights)
    cum = 0.0
    cols = []
    for h in heights:
        left_share = (cum + h) / total
        right_share = (total - cum) / total
        cum += h
        cols.append(rgba(col, 0.35) if (left_share < 0.027 or right_share < 0.027) else rgba(col, 0.95))
    fig.add_trace(go.Bar(x=[start + k for k in range(len(heights))], y=heights, base=row_y[gi], width=1,
                         marker=dict(color=cols, line=dict(width=0)), xaxis="x3", yaxis="y3",
                         showlegend=False, hoverinfo="skip"))
for m, col in zip(C_MEANS, C_COLORS):
    fig.add_trace(go.Scatter(x=[m, m], y=[0.37, 6.68], mode="lines", xaxis="x3", yaxis="y3", showlegend=False,
                             line=dict(color=col, width=1.3, dash="4px,3px"), hoverinfo="skip"))
fig.add_trace(go.Scatter(x=[14.55] * len(C_MEANS), y=row_y, mode="text", text=[f"{m:.2f}" for m in C_MEANS],
                         textfont=dict(size=12.5, color=C_COLORS, family=FONT), xaxis="x3", yaxis="y3",
                         showlegend=False, hoverinfo="skip"))
note("Number of crossover", 691.5, 213.5, size=12.5)

# ---------------- panels D-F ----------------
ROWS = [
    ("Col", "Col crossovers (cM/Mb)", COL_FEMALE, COL_MALE, ORANGE, PURPLE, 238.7, 376.2, "Col"),
    ("L<i>er</i>", "L<i>er</i> crossovers (cM/Mb)", LER_FEMALE, LER_MALE, BLUE, GOLD, 410.5, 546.5, "Ler"),
    ("Hybrid", "Hybrid crossovers (cM/Mb)", HYB_FEMALE, HYB_MALE, PINK, TEAL, 579.5, 715.5, "Hybrid"),
]
scale = (797.3 - 34 - 4 * 6) / sum(1.1 * L for L in CHR_LEN)
lefts = []
p = 34.0
for L in CHR_LEN:
    w = 1.1 * L * scale
    lefts.append((p, p + w))
    p += w + 6

for r, (label, ytitle, fem, male, fcol, mcol, top, bot, key) in enumerate(ROWS):
    f_avg, m_avg = GENOME_AVG[key]
    for c, chrom in enumerate(CHROMS):
        n = 4 + r * 5 + c
        xa, ya = f"x{n}", f"y{n}"
        L = CHR_LEN[c]
        ticktext = [str(t) for t in CHR_TICKS[c]]
        if c == 0:
            ticktext[-1] = f"{CHR_TICKS[c][-1]}M"
        axes[f"xaxis{n}"] = frame_axis(domain=[pxx(lefts[c][0]), pxx(lefts[c][1])], anchor=ya,
                                       range=[-0.05 * L, 1.05 * L], tickvals=CHR_TICKS[c], ticktext=ticktext,
                                       ticklen=2.5, tickfont=dict(size=11, color=GREY_TXT, family=FONT))
        axes[f"yaxis{n}"] = frame_axis(domain=[pxy(bot), pxy(top)], anchor=xa, range=[-1.35, 16.85],
                                       tickvals=[0, 5, 10, 15], showticklabels=(c == 0),
                                       ticks="outside" if c == 0 else "")
        shapes.append(dict(type="rect", xref=xa, yref=ya, x0=PERICEN[c][0], x1=PERICEN[c][1], y0=-0.6, y1=16,
                           fillcolor="#d5ebf3", line=dict(width=0), layer="below"))
        shapes.append(dict(type="rect", xref=xa, yref=ya, x0=CEN[c][0], x1=CEN[c][1], y0=-0.6, y1=16,
                           fillcolor="#d9d9d9", line=dict(width=0), layer="below"))
        if chrom == "Chr4":
            shapes.append(dict(type="rect", xref=xa, yref=ya, x0=KNOB_CHR4[0], x1=KNOB_CHR4[1], y0=KNOB_CHR4[2],
                               y1=KNOB_CHR4[3], fillcolor="#ff0000", line=dict(width=0), layer="above"))
        for pts, col, alpha in [(male[chrom], mcol, 0.5), (fem[chrom], fcol, 0.5)]:
            xs = [q[0] for q in pts]
            ys = [q[1] for q in pts]
            up = [q[1] + q[2] for q in pts]
            lo = [q[1] - q[2] for q in pts]
            fig.add_trace(go.Scatter(x=xs + xs[::-1], y=up + lo[::-1], fill="toself", fillcolor=rgba(col, alpha),
                                     line=dict(width=0), mode="lines", xaxis=xa, yaxis=ya, showlegend=False,
                                     hoverinfo="skip"))
        for pts, col in [(male[chrom], mcol), (fem[chrom], fcol)]:
            fig.add_trace(go.Scatter(x=[q[0] for q in pts], y=[q[1] for q in pts], mode="lines",
                                     line=dict(color=col, width=1), xaxis=xa, yaxis=ya, showlegend=False))
        for v, col in [(m_avg, AVG_PURPLE), (f_avg, AVG_ORANGE)]:
            shapes.append(dict(type="line", xref=f"{xa} domain", yref=ya, x0=0, x1=1, y0=v, y1=v, layer="above",
                               line=dict(color=col, width=1, dash="5px,3px")))
        note(chrom, (lefts[c][0] + lefts[c][1]) / 2, top - 8.5, size=12)
    note(label, 47, top + 15.5, size=13.5, xanchor="left")
    note(ytitle, 8, (top + bot) / 2, size=11.5, angle=-90)
    for i, (name, col) in enumerate([("Female", fcol), ("Male", mcol)]):
        yc = top + 9.5 + 10.5 * i
        shapes.append(dict(type="line", xref="paper", yref="paper", x0=pxx(745), x1=pxx(753), y0=pxy(yc),
                           y1=pxy(yc), line=dict(color=col, width=1.5)))
        note(name, 757, yc, size=10.5, color="#222", xanchor="left")

for letter, x, y in [("A", 7.5, 11), ("B", 266, 11), ("C", 526, 11), ("D", 8, 226.5), ("E", 8, 392),
                     ("F", 8, 565.5)]:
    note(letter, x, y, size=20)

fig.update_layout(
    width=W, height=H, margin=dict(l=0, r=0, t=0, b=0), autosize=False,
    paper_bgcolor="white", plot_bgcolor="white", showlegend=False,
    font=dict(family=FONT, color="black"),
    boxmode="group", boxgap=0.27, boxgroupgap=0.05, barmode="overlay",
    annotations=annotations, shapes=shapes, **axes)

fig.write_html("out.html", config={"displayModeBar": False},
               post_script="document.body.style.margin='0';")
